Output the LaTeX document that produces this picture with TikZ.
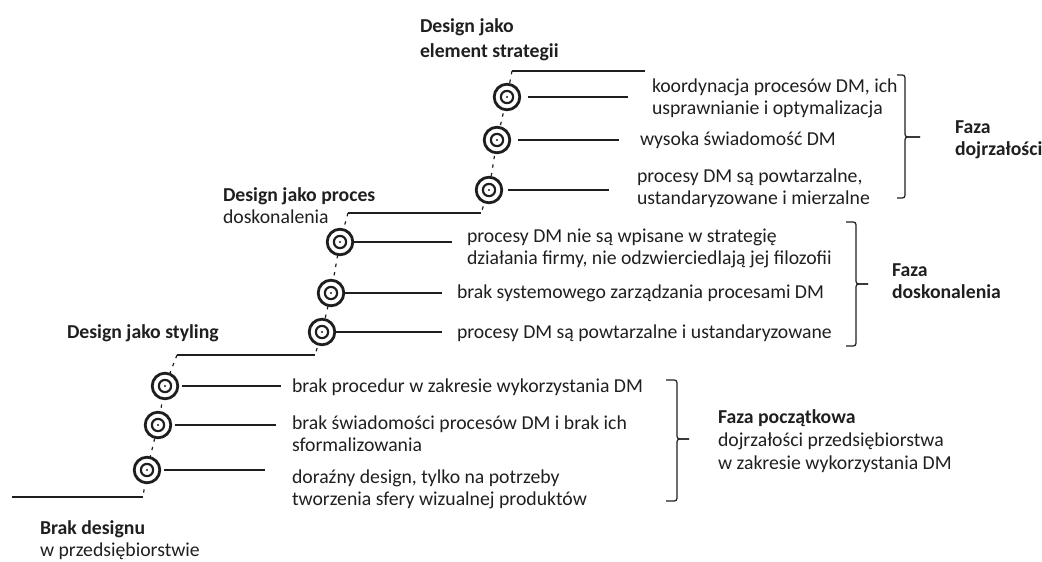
\documentclass[tikz,border=0pt]{standalone}
\usepackage{fontspec}
\setmainfont{Carlito}
\definecolor{ink}{HTML}{1E1E1E}
\definecolor{txt}{HTML}{1F1F1F}
\begin{document}
\begin{tikzpicture}[x=0.75pt,y=-0.75pt,
  every node/.style={font=\fontsize{14.8pt}{16.5pt}\selectfont, text=txt, inner sep=0pt, outer sep=0pt},
  item/.style={anchor=west, align=left},
  stage/.style={anchor=west, align=left},
  phase/.style={anchor=west, align=left, font=\fontsize{14.8pt}{16.5pt}\selectfont\bfseries},
  ring/.style={circle, draw=ink, fill=white, line width=2.1pt, minimum size=19.2pt,
    path picture={\draw[ink, line width=1.6pt] (path picture bounding box.center) circle (4.6pt);
                  \fill[ink] (path picture bounding box.center) circle (0.8pt);}},
  tread/.style={draw=ink, line width=1.1pt},
  riser/.style={draw=ink, line width=0.9pt, dash pattern=on 2.5pt off 4pt},
  lead/.style={draw=ink, line width=1pt},
  brace/.style={draw=ink, line width=0.9pt, rounded corners=2pt}
]
\useasboundingbox (0,0) rectangle (1042,561);

% staircase corners
\coordinate (s0l) at (512,71);  \coordinate (s0r) at (645,71);
\coordinate (s1l) at (348,213); \coordinate (s1r) at (481,213);
\coordinate (s2l) at (177,355); \coordinate (s2r) at (315,355);
\coordinate (s3l) at (12,497);  \coordinate (s3r) at (143,497);

% ring positions
\coordinate (p11) at (507,97);  \coordinate (p12) at (497,140); \coordinate (p13) at (489,190);
\coordinate (p21) at (340,242); \coordinate (p22) at (331,293); \coordinate (p23) at (322,332);
\coordinate (p31) at (165,386); \coordinate (p32) at (158,425); \coordinate (p33) at (147,470);

% treads and dashed risers
\draw[tread] (s0l) -- (s0r);
\draw[tread] (s1l) -- (s1r);
\draw[tread] (s2l) -- (s2r);
\draw[tread] (s3l) -- (s3r);
\draw[riser] (s0l) -- (p11) -- (p12) -- (p13) -- (s1r);
\draw[riser] (s1l) -- (p21) -- (p22) -- (p23) -- (s2r);
\draw[riser] (s2l) -- (p31) -- (p32) -- (p33) -- (s3r);

% rings
\foreach \g in {1,2,3}{\foreach \k in {1,2,3}{\node[ring] (c\g\k) at (p\g\k) {};}}

% stage labels
\node[stage, font=\fontsize{14.8pt}{18.5pt}\selectfont\bfseries] (st4) at (420,40) {Design jako\\element strategii};
\node[stage] (st3) at (223,206) {\textbf{Design jako proces}\\doskonalenia};
\node[stage, font=\fontsize{14.8pt}{16.5pt}\selectfont\bfseries] (st2) at (67,333) {Design jako styling};
\node[stage] (st1) at (40,540) {\textbf{Brak designu}\\w przedsiębiorstwie};

% items of the maturity phase
\node[item] (t11) at (652,98) {koordynacja procesów DM, ich\\usprawnianie i optymalizacja};
\node[item] (t12) at (640,140) {wysoka świadomość DM};
\node[item] (t13) at (637,188) {procesy DM są powtarzalne,\\ustandaryzowane i mierzalne};
% items of the improvement phase
\node[item] (t21) at (467,248) {procesy DM nie są wpisane w strategię\\działania firmy, nie odzwierciedlają jej filozofii};
\node[item] (t22) at (457,293) {brak systemowego zarządzania procesami DM};
\node[item] (t23) at (457,333) {procesy DM są powtarzalne i ustandaryzowane};
% items of the initial phase
\node[item] (t31) at (292,387) {brak procedur w zakresie wykorzystania DM};
\node[item] (t32) at (292,434) {brak świadomości procesów DM i brak ich\\sformalizowania};
\node[item] (t33) at (292,489) {doraźny design, tylko na potrzeby\\tworzenia sfery wizualnej produktów};

% leaders from rings to items
\draw[lead, shorten <=6pt, shorten >=18pt] (c11.east) -- (c11.east -| t11.west);
\draw[lead, shorten <=6pt, shorten >=16pt] (c12.east) -- (c12.east -| t12.west);
\draw[lead, shorten <=5pt, shorten >=21pt] (c13.east) -- (c13.east -| t13.west);
\draw[lead, shorten <=1pt, shorten >=11pt] (c21.east) -- (c21.east -| t21.west);
\draw[lead, shorten <=1pt, shorten >=11pt] (c22.east) -- (c22.east -| t22.west);
\draw[lead, shorten <=1pt, shorten >=11pt] (c23.east) -- (c23.east -| t23.west);
\draw[lead, shorten <=3pt, shorten >=8pt] (c31.east) -- (c31.east -| t31.west);
\draw[lead, shorten <=3pt, shorten >=12pt] (c32.east) -- (c32.east -| t32.west);
\draw[lead, shorten <=3pt, shorten >=20pt] (c33.east) -- (c33.east -| t33.west);

% phase braces
\coordinate (b1t) at (897,75);  \coordinate (b1m) at (920,137); \coordinate (b1b) at (897,198);
\coordinate (b2t) at (846,222); \coordinate (b2m) at (868,284); \coordinate (b2b) at (846,346);
\coordinate (b3t) at (666,380); \coordinate (b3m) at (689,439); \coordinate (b3b) at (666,501);
\draw[brace] (b1t) -- (905,75) -- (905,137) -- (b1m);
\draw[brace] (b1m) -- (905,137) -- (905,198) -- (b1b);
\draw[brace] (b2t) -- (856,222) -- (856,284) -- (b2m);
\draw[brace] (b2m) -- (856,284) -- (856,346) -- (b2b);
\draw[brace] (b3t) -- (677,380) -- (677,439) -- (b3m);
\draw[brace] (b3m) -- (677,439) -- (677,501) -- (b3b);

% phase labels
\node[phase] (f1) at (955,140) {Faza\\dojrzałości};
\node[phase] (f2) at (892,281) {Faza\\doskonalenia};
\node[item, font=\fontsize{14.8pt}{17.5pt}\selectfont] (f3) at (718,441) {\textbf{Faza początkowa}\\dojrzałości przedsiębiorstwa\\w zakresie wykorzystania DM};
\end{tikzpicture}
\end{document}
